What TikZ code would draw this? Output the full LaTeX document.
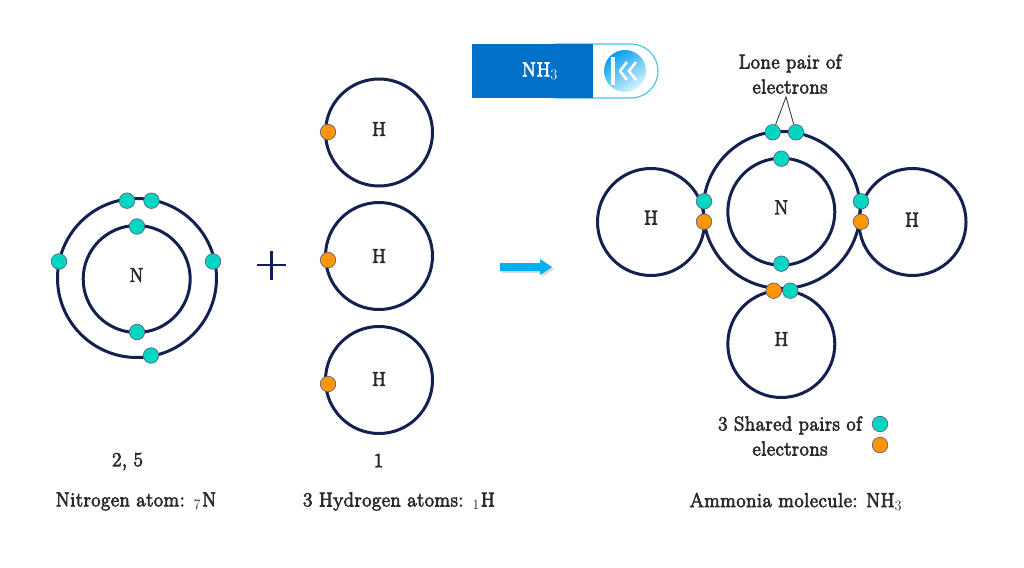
\documentclass[tikz,border=0pt]{standalone}
\usepackage{amsmath}
\usepackage{fontspec}
\setmainfont{Latin Modern Roman}[FakeBold=4,LetterSpace=3]
\usepackage{tikz}

\definecolor{shellblue}{HTML}{14204F}
\definecolor{teale}{HTML}{00D6C2}
\definecolor{orangee}{HTML}{FF9600}
\definecolor{badgeblue}{HTML}{0070C8}
\definecolor{arrowblue}{HTML}{00B0F0}
\definecolor{textdark}{HTML}{2B2B2B}

\tikzset{
  shell/.style={circle,draw=shellblue,line width=3pt,inner sep=0pt,minimum size=#1},
  tel/.style={circle,draw=shellblue!70,line width=0.7pt,fill=teale,inner sep=0pt,minimum size=15.5pt},
  oel/.style={circle,draw=shellblue!70,line width=0.7pt,fill=orangee,inner sep=0pt,minimum size=15.5pt},
  lbl/.style={text=textdark,font=\fontsize{20}{25}\selectfont,inner sep=0pt,align=center}
}

\begin{document}
\begin{tikzpicture}[x=1pt,y=-1pt]
  \useasboundingbox (0,0) rectangle (1024,567);

  % badge
  \draw[arrowblue!75,line width=1.1pt,fill=white,rounded corners=27pt] (530,44) rectangle (658,98);
  \fill[badgeblue] (472,44) rectangle (593,98);
  \node[lbl,text=white] (title) at (540,71) {NH$_3$};
  \shade[left color=arrowblue!90!blue,right color=arrowblue!15,shading angle=35] (625,71) circle [radius=21pt];
  \fill[white] (611,57) rectangle (615,85);
  \draw[white,line width=2.6pt] (627,62) -- (620,71) -- (627,80);
  \draw[white,line width=2.6pt] (636,62) -- (629,71) -- (636,80);

  % nitrogen atom
  \node[shell=159pt] (noutA) at (137,278) {};
  \node[shell=107pt] (ninA) at (136.7,279) {};
  \node[lbl] (nA) at (136.5,275) {N};
  \node[tel] (e1) at (127,200.7) {};
  \node[tel] (e2) at (151.5,200.7) {};
  \node[tel] (e3) at (137,226.5) {};
  \node[tel] (e4) at (59,261.5) {};
  \node[tel] (e5) at (213,261.5) {};
  \node[tel] (e6) at (137,332) {};
  \node[tel] (e7) at (151,355.5) {};

  % plus
  \draw[shellblue!90!blue,line width=2.8pt] (257,265) -- (286,265);
  \draw[shellblue!90!blue,line width=2.8pt] (271.5,251) -- (271.5,280);

  % hydrogen atoms
  \node[shell=107pt] (h1) at (379,132.5) {};
  \node[shell=107pt] (h2) at (379,256) {};
  \node[shell=107pt] (h3) at (379,380) {};
  \node[lbl] at (379,129) {H};
  \node[lbl] at (379,256) {H};
  \node[lbl] at (379,379) {H};
  \node[oel] (o1) at (328,132) {};
  \node[oel] (o2) at (328,260) {};
  \node[oel] (o3) at (328,384) {};

  % arrow
  \fill[black!15] (502,265) -- (542,265) -- (542,261) -- (554,269) -- (542,277) -- (542,273) -- (502,273) -- cycle;
  \fill[arrowblue] (500,263) -- (540,263) -- (540,259) -- (552,267) -- (540,275) -- (540,271) -- (500,271) -- cycle;

  % ammonia
  \node[shell=107pt] (hL) at (651,222) {};
  \node[shell=107pt] (hR) at (912.5,222) {};
  \node[shell=107pt] (hB) at (781.3,344) {};
  \node[shell=157pt] (noutB) at (781.7,210) {};
  \node[shell=107pt] (ninB) at (781.3,211.7) {};
  \node[lbl] at (781.3,207.3) {N};
  \node[lbl] at (651,217.7) {H};
  \node[lbl] at (912,219.7) {H};
  \node[lbl] at (781.3,339) {H};
  \node[tel] (lp1) at (772.7,132.3) {};
  \node[tel] (lp2) at (796,132.3) {};
  \node[tel] (a1) at (781.3,158.7) {};
  \node[tel] (a2) at (781.3,263.7) {};
  \node[tel] (a3) at (704,201.3) {};
  \node[oel] (a4) at (704,221.7) {};
  \node[tel] (a5) at (861,201.3) {};
  \node[oel] (a6) at (861,221.7) {};
  \node[oel] (a7) at (773.7,290.7) {};
  \node[tel] (a8) at (790.3,290.7) {};

  % lone pair
  \node[lbl] (lone) at (790,74) {Lone pair of\\electrons};
  \coordinate (apex) at (786,97);
  \draw[textdark,line width=0.8pt] (lp1) -- (apex) -- (lp2);

  % legend
  \node[lbl] (shared) at (790,436) {3 Shared pairs of\\electrons};
  \node[tel] (k1) at (880,424) {};
  \node[oel] (k2) at (880,445) {};

  % captions
  \node[lbl] (c1) at (127.5,461.5) {2, 5};
  \node[lbl] (c2) at (378.5,460.5) {1};
  \node[lbl] (c3) at (136,501.5) {Nitrogen atom: ${}_7\mkern1mu$N};
  \node[lbl] (c4) at (399,501.5) {3 Hydrogen atoms: ${}_1\mkern1mu$H};
  \node[lbl] (c5) at (796,501.5) {Ammonia molecule: NH$_3$};
\end{tikzpicture}
\end{document}
